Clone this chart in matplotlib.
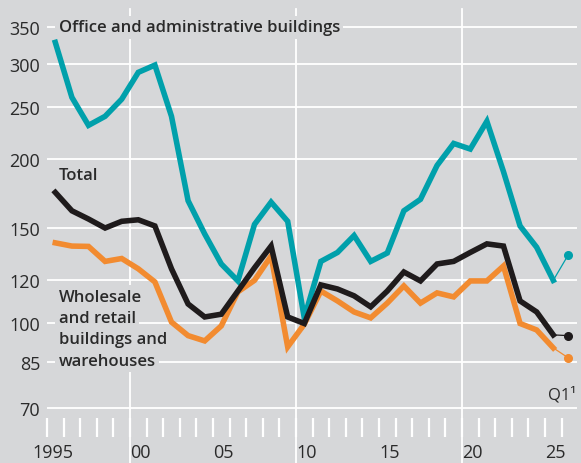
import numpy as np
import matplotlib
matplotlib.use("Agg")
import matplotlib.pyplot as plt
from matplotlib.ticker import NullLocator, FixedLocator
from matplotlib.transforms import blended_transform_factory

# ---- data (index, log scale) ----
years = list(range(1995, 2026))
q1_x = 2026.4

office = [328, 260, 231, 240, 258, 289, 298, 240, 168, 146, 128.6, 119.7, 152, 167, 154,
          102.4, 130, 135, 145, 130, 134.7, 161, 169, 195, 214, 209, 235, 190, 151, 138, 120]
office_q1 = 133.6

total = [174, 161, 155.5, 149.7, 154, 155, 151, 126, 108.6, 102.8, 104, 114.7, 126.5, 138.7, 102.8,
         100, 117.7, 115.7, 112.4, 107.3, 114.7, 124.3, 119.7, 128.6, 130, 135, 140, 138.7, 110, 105, 95.3]
total_q1 = 95

wholesale = [140.6, 138.7, 138.5, 130, 131.6, 126, 119.2, 100.6, 95, 92.9, 99, 114.3, 120, 133, 90.6,
             99.7, 114.7, 110, 105, 102.4, 109, 117.2, 109, 113.8, 111.9, 119.7, 119.7, 127.5, 100, 97.3, 90.2]
wholesale_q1 = 86.5

y_ticks = [70, 85, 100, 120, 150, 200, 250, 300, 350]
x_label_years = [1995, 2000, 2005, 2010, 2015, 2020, 2025]
x_label_text = ["1995", "00", "05", "10", "15", "20", "25"]
decades = [2000, 2010, 2020]

BG = "#d6d7d9"
TEAL = "#00a0ab"
ORANGE = "#f28b30"
BLACK = "#1f1b1c"
TXT = "#2a2a2a"

plt.rcParams["font.family"] = ["Open Sans", "DejaVu Sans"]

fig = plt.figure(figsize=(5.81, 4.64), dpi=100, facecolor=BG)
ax = fig.add_axes([47/581, 26/464, 530/581, 428/464], facecolor=BG)
ax.set_yscale("log")
ax.set_ylim(61.9, 377.7)
ax.set_xlim(1995, 2026.93)
for s in ax.spines.values():
    s.set_visible(False)

# y axis
ax.yaxis.set_major_locator(FixedLocator(y_ticks))
ax.yaxis.set_minor_locator(NullLocator())
ax.set_yticklabels([str(v) for v in y_ticks])
ax.tick_params(axis="y", length=0, pad=5, labelsize=13, labelcolor=TXT)
ax.grid(axis="y", color="white", lw=1.3, zorder=1)

# x axis: yearly white ticks inside, decade lines
ax.xaxis.set_major_locator(NullLocator())
ax.xaxis.set_minor_locator(FixedLocator(range(1995, 2027)))
ax.tick_params(axis="x", which="minor", direction="in", length=14, width=1.6, color="white")
trans = blended_transform_factory(ax.transData, ax.transAxes)
for d in decades:
    ax.plot([d, d], [-0.07, 1], color="white", lw=1.3, transform=trans, clip_on=False, zorder=1)
for yr, lab in zip(x_label_years, x_label_text):
    xx = yr - 0.85 if yr == 1995 else yr
    ax.text(xx, -0.034, lab, transform=trans, ha="left", va="center", fontsize=13, color=TXT)

# lines
xs = [y + 0.5 for y in years]
lw = 4.0
for vals, q1, col in [(office, office_q1, TEAL), (wholesale, wholesale_q1, ORANGE), (total, total_q1, BLACK)]:
    ax.plot(xs, vals, color=col, lw=lw, solid_joinstyle="miter", zorder=3)
    ax.plot([xs[-1], q1_x], [vals[-1], q1], color=col, lw=0.9, zorder=3)
    ax.plot([q1_x], [q1], "o", color=col, ms=5.5, zorder=4)

# labels
box = dict(facecolor=BG, edgecolor="none", pad=2.5)
ax.text(1995.7, 350, "Office and administrative buildings", fontsize=12, fontweight="semibold",
        color=TXT, va="center", ha="left", bbox=box, zorder=2)
ax.text(1995.7, 187, "Total", fontsize=12, fontweight="semibold", color=TXT, va="center", ha="left", zorder=2)
for i, line in enumerate(["Wholesale", "and retail", "buildings and", "warehouses"]):
    ax.text(1995.7, 111.9 * (0.914 ** i), line, fontsize=12, fontweight="semibold", color=TXT,
            va="center", ha="left", bbox=box, zorder=2)
ax.text(2026.9, 74.3, "Q1¹", fontsize=12, color=TXT, ha="right", va="center")

fig.savefig("out.png", dpi=100, facecolor=BG)
